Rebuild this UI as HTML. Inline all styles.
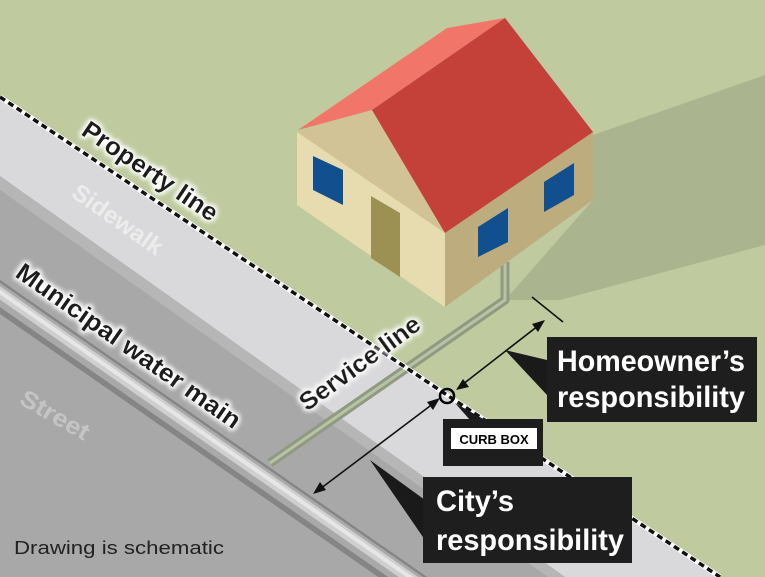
<!DOCTYPE html>
<html><head><style>
html,body{margin:0;padding:0;}
body{width:765px;height:577px;overflow:hidden;background:#bfcb9f;}
svg{display:block}
.lbl{font-family:"Liberation Sans",sans-serif;font-weight:bold;}
</style></head><body>
<svg width="765" height="577" viewBox="0 0 765 577" xmlns="http://www.w3.org/2000/svg">
<defs>
<filter id="glow" x="-20%" y="-50%" width="140%" height="200%"><feMorphology operator="dilate" radius="2" in="SourceAlpha" result="d"/><feGaussianBlur in="d" stdDeviation="2" result="b"/><feFlood flood-color="#fff"/><feComposite in2="b" operator="in" result="w"/><feMerge><feMergeNode in="w"/><feMergeNode in="SourceGraphic"/></feMerge></filter>
</defs>
<rect width="765" height="577" fill="#bfcb9f"/>
<polygon points="593,135 765,75 765,245 560,300 505,300 593,200" fill="#aab48f"/>
<polygon points="0,97 720,577 0,577" fill="#d9d9db"/>
<polygon points="0,176 565,577 0,577" fill="#a9a9a9"/>
<polygon points="0,176 565,577 548,577 0,190" fill="#b6b6b6"/>
<polygon points="0,190 548,577 0,577" fill="#a8a8a8"/>
<polyline points="505,262 505,300 270,463" fill="none" stroke="#8f9a80" stroke-width="9" stroke-linejoin="round"/>
<polyline points="505,262 505,300 270,463" fill="none" stroke="#b8c3a6" stroke-width="3" stroke-linejoin="round"/>
<!-- water main -->
<line x1="-10" y1="290" x2="430" y2="596" stroke="#858585" stroke-width="28"/>
<line x1="-10" y1="288" x2="430" y2="594" stroke="#a9a9a9" stroke-width="20"/>
<line x1="-10" y1="286" x2="430" y2="592" stroke="#cfcfcf" stroke-width="11"/>
<line x1="-10" y1="285" x2="430" y2="591" stroke="#e6e6e6" stroke-width="4"/>
<line x1="0" y1="97" x2="720" y2="577" stroke="#fff" stroke-width="5"/>
<line x1="0" y1="97" x2="720" y2="577" stroke="#111" stroke-width="3.5" stroke-dasharray="6,4"/>
<!-- house -->
<polygon points="297,132 445,233 445,307 297,205" fill="#e6dcaf"/>
<polygon points="445,233 593,132 593,200 445,307" fill="#bdac7e"/>
<polygon points="297,132 372,110 445,233" fill="#d2c396"/>
<polygon points="298,130 447,28 505,18 372,110" fill="#f2756a"/>
<polygon points="372,110 505,18 593,132 445,233" fill="#c4413a"/>
<polygon points="313,156 343,170 343,205 313,190" fill="#124f8f"/>
<polygon points="371,196 400,213 400,277 371,258" fill="#9c9152"/>
<polygon points="478,227 508,208 508,242 478,257" fill="#124f8f"/>
<polygon points="544,182 574,163 574,195 544,212" fill="#124f8f"/>
<g stroke="#111" stroke-width="1.6" fill="none">
<line x1="532" y1="297" x2="563" y2="322"/>
<line x1="458" y1="388" x2="543" y2="322"/>
<line x1="438" y1="400" x2="316" y2="492"/>
</g>
<g fill="#111">
<polygon points="545,320 532,324 538,332"/>
<polygon points="456,390 463,379 469,387"/>
<polygon points="440,398 427,402 433,410"/>
<polygon points="313,494 320,482 326,490"/>
</g>
<circle cx="447" cy="396" r="7" fill="none" stroke="#000" stroke-width="2.5"/>
<polygon points="547,360 505,350 547,395" fill="#1a1a1a"/>
<rect x="547" y="337" width="210" height="85" fill="#1e1e1e"/>
<polygon points="425,500 370,460 425,540" fill="#1a1a1a"/>
<rect x="423" y="477" width="209" height="86" fill="#1e1e1e"/>
<polygon points="470,420 455,403 485,420" fill="#1a1a1a"/>
<rect x="443" y="419" width="100" height="47" fill="#1e1e1e"/>
<rect x="451" y="428" width="86" height="21" fill="#fff"/>
<text x="494" y="444" text-anchor="middle" class="lbl" font-size="13" fill="#000">CURB BOX</text>
<text x="557" y="371" class="lbl" font-size="30" fill="#fff" textLength="188" lengthAdjust="spacingAndGlyphs">Homeowner’s</text>
<text x="557" y="407" class="lbl" font-size="30" fill="#fff" textLength="188" lengthAdjust="spacingAndGlyphs">responsibility</text>
<text x="436" y="511" class="lbl" font-size="30" fill="#fff" textLength="78" lengthAdjust="spacingAndGlyphs">City’s</text>
<text x="436" y="550" class="lbl" font-size="30" fill="#fff" textLength="188" lengthAdjust="spacingAndGlyphs">responsibility</text>
<g filter="url(#glow)">
<text class="lbl" font-size="25" fill="#1a1a1a" transform="translate(80,134) rotate(34)" textLength="158" lengthAdjust="spacingAndGlyphs">Property line</text>
<text class="lbl" font-size="25" fill="#1a1a1a" transform="translate(14,276) rotate(35)" textLength="268" lengthAdjust="spacingAndGlyphs">Municipal water main</text>
<text class="lbl" font-size="25" fill="#1a1a1a" transform="translate(307,412) rotate(-36)" textLength="143" lengthAdjust="spacingAndGlyphs">Service line</text>
</g>
<text class="lbl" font-size="24" fill="#ececec" transform="translate(70,196) rotate(35)" textLength="105" lengthAdjust="spacingAndGlyphs">Sidewalk</text>
<text class="lbl" font-size="24" fill="#c4c4c4" transform="translate(18,403) rotate(30)" textLength="76" lengthAdjust="spacingAndGlyphs">Street</text>
<text x="14" y="554" font-family="Liberation Sans,sans-serif" font-size="18" fill="#222" textLength="210" lengthAdjust="spacingAndGlyphs">Drawing is schematic</text>
</svg>
</body></html>
